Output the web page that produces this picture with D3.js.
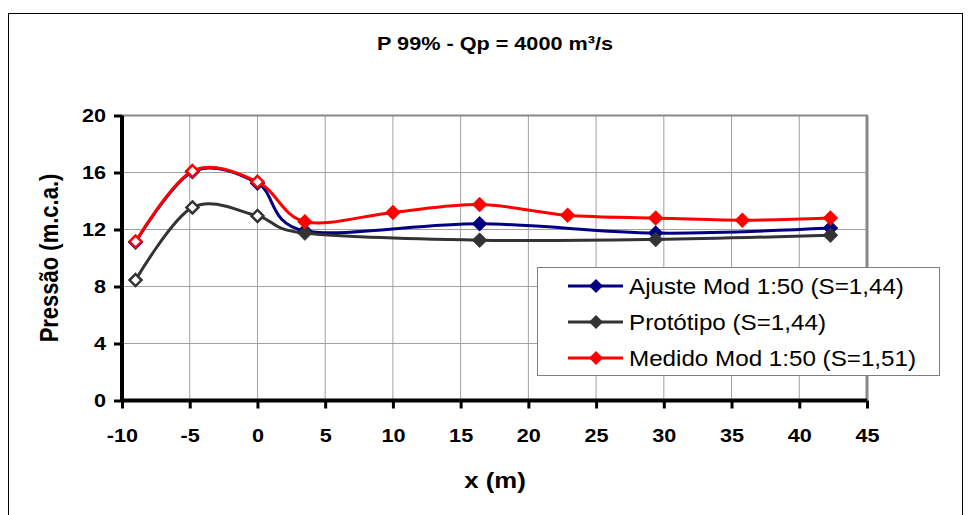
<!DOCTYPE html>
<html><head><meta charset="utf-8">
<script src="https://cdn.jsdelivr.net/npm/d3@7"></script>
<style>
html,body{margin:0;padding:0;background:#fff;}
text{font-family:"Liberation Sans",Arial,sans-serif;}
</style></head>
<body><svg id="c" width="971" height="515"></svg>
<script>
const title = "P 99% - Qp = 4000 m³/s";
const xLabel = "x (m)";
const yLabel = "Pressão (m.c.a.)";
const xTicks = [-10,-5,0,5,10,15,20,25,30,35,40,45];
const yTicks = [0,4,8,12,16,20];
const seriesNames = ["Ajuste Mod 1:50 (S=1,44)","Protótipo (S=1,44)","Medido Mod 1:50 (S=1,51)"];
const seriesColors = ["#000080","#333333","#ff0000"];
const ajusteX = [-9,-4.8,0,3.5,16.4,29.4,42.3];
const ajusteY = [11.1,16.05,15.25,11.9,12.4,11.75,12.1];
const protoX = [-9,-4.8,0,3.5,16.4,29.4,42.3];
const protoY = [8.45,13.55,12.95,11.75,11.25,11.3,11.6];
const medidoX = [-9,-4.8,0,3.5,10,16.4,22.9,29.4,35.8,42.3];
const medidoY = [11.15,16.1,15.35,12.55,13.2,13.75,13.0,12.8,12.65,12.8];
const hollowCount = 3;

const SX = 1.17; // horizontal stretch of the original's text
const svg = d3.select("#c");
const L=122, R=867, T=115.5, B=400.5;
const x = d3.scaleLinear().domain([-10,45]).range([L,R]);
const y = d3.scaleLinear().domain([0,20]).range([B,T]);

// outer border
svg.append("rect").attr("x",8.5).attr("y",13.5).attr("width",954).attr("height",520)
  .attr("fill","#fff").attr("stroke","#000").attr("stroke-width",1);

// title
svg.append("text").attr("transform",`translate(495,50) scale(${SX},1)`).attr("text-anchor","middle")
  .attr("font-size",18.5).attr("font-weight","bold").text(title);

// grid
const g = svg.append("g");
g.selectAll("line.vg").data(xTicks.slice(1)).join("line")
  .attr("x1",d=>x(d)).attr("x2",d=>x(d)).attr("y1",T).attr("y2",B)
  .attr("stroke","#a0a0a0").attr("stroke-width",1);
g.selectAll("line.hg").data(yTicks.slice(1)).join("line")
  .attr("x1",L).attr("x2",R).attr("y1",d=>y(d)).attr("y2",d=>y(d))
  .attr("stroke","#a0a0a0").attr("stroke-width",1);
g.append("line").attr("x1",L).attr("x2",R+1).attr("y1",T).attr("y2",T).attr("stroke","#888").attr("stroke-width",2);
g.append("line").attr("x1",R).attr("x2",R).attr("y1",T).attr("y2",B).attr("stroke","#888").attr("stroke-width",3);

// axes
const fmt = d=>String(d);
const xAxis = d3.axisBottom(x).tickValues(xTicks).tickSize(8).tickPadding(20).tickFormat(fmt);
const yAxis = d3.axisLeft(y).tickValues(yTicks).tickSize(8).tickPadding(8).tickFormat(fmt);
const gx = svg.append("g").attr("transform",`translate(0,${B})`).call(xAxis);
const gy = svg.append("g").attr("transform",`translate(${L},0)`).call(yAxis);
[gx,gy].forEach(a=>{
  a.select(".domain").attr("stroke","#000").attr("stroke-width",4);
  a.selectAll(".tick line").attr("stroke","#000").attr("stroke-width",3);
  a.selectAll(".tick text").attr("font-family","'Liberation Sans',Arial,sans-serif")
   .attr("font-size",18.5).attr("font-weight","bold").attr("fill","#000");
});
gx.selectAll(".tick text").attr("transform",`scale(${SX},1)`);
gy.selectAll(".tick text").attr("x",0).attr("transform",`translate(-16,0) scale(${SX},1)`);
gx.select(".domain").attr("d",`M${L},0H${R}`);
gy.select(".domain").attr("d",`M0,${B}V${T}`);

// axis titles
svg.append("text").attr("transform",`translate(495,488) scale(${SX},1)`).attr("text-anchor","middle")
  .attr("font-size",22).attr("font-weight","bold").text(xLabel);
svg.append("text").attr("transform",`translate(58,258) scale(${SX},1) rotate(-90)`).attr("text-anchor","middle")
  .attr("font-size",22).attr("font-weight","bold").text(yLabel);

// series
const series = [
  {xs:ajusteX, ys:ajusteY},
  {xs:protoX, ys:protoY},
  {xs:medidoX, ys:medidoY}
];
const line = d3.line().x(d=>x(d[0])).y(d=>y(d[1])).curve(d3.curveCardinal.tension(0));
const diamond = (cx,cy,r)=>`M${cx},${cy-r}L${cx+r},${cy}L${cx},${cy+r}L${cx-r},${cy}Z`;
series.forEach((s,i)=>{
  const pts = s.xs.map((v,k)=>[v,s.ys[k]]);
  const sg = svg.append("g");
  sg.append("path").attr("d",line(pts)).attr("fill","none").attr("stroke",seriesColors[i]).attr("stroke-width",3);
  sg.selectAll("path.m").data(pts).join("path").attr("class","m")
    .attr("d",(d,k)=> k<hollowCount ? diamond(x(d[0]),y(d[1]),6) : diamond(x(d[0]),y(d[1]),7.5))
    .attr("fill",(d,k)=> k<hollowCount ? "#fff" : seriesColors[i])
    .attr("stroke",seriesColors[i]).attr("stroke-width",(d,k)=>k<hollowCount?2.5:0.5);
});

// legend
const lg = svg.append("g");
lg.append("rect").attr("x",537.5).attr("y",267.5).attr("width",402).attr("height",108)
  .attr("fill","#fff").attr("stroke","#808080").attr("stroke-width",1);
seriesNames.forEach((n,i)=>{
  const cy = 286 + i*36;
  lg.append("line").attr("x1",568).attr("x2",623).attr("y1",cy).attr("y2",cy)
    .attr("stroke",seriesColors[i]).attr("stroke-width",3);
  lg.append("path").attr("d",diamond(596,cy,7)).attr("fill",seriesColors[i]);
  lg.append("text").attr("transform",`translate(629,${cy}) scale(1.1,1)`).attr("dy","0.35em").attr("font-size",22).text(n);
});
</script></body></html>
